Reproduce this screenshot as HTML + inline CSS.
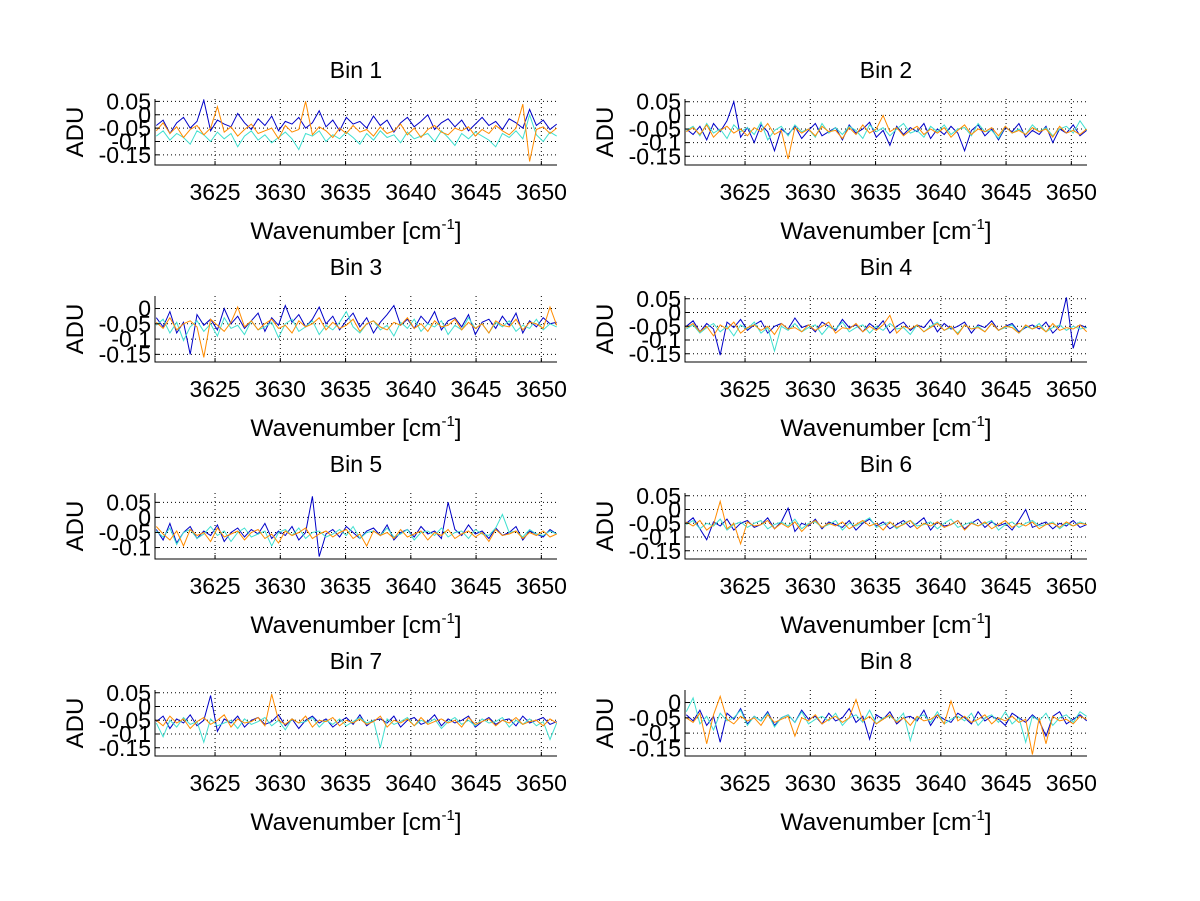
<!DOCTYPE html>
<html><head><meta charset="utf-8"><title>Bins</title>
<style>
html,body{margin:0;padding:0;background:#fff;}
svg{display:block;font-family:"Liberation Sans",Arial,sans-serif;}
</style></head>
<body>
<svg id="fig" width="1200" height="901" viewBox="0 0 1200 901"></svg>
<script>
// ---- chart data (values in ADU) ----
const binTitles = ["Bin 1","Bin 2","Bin 3","Bin 4","Bin 5","Bin 6","Bin 7","Bin 8"];
const xTicks = [3625,3630,3635,3640,3645,3650];
const xTickLabels = ["3625","3630","3635","3640","3645","3650"];
const wnStart = 3620.5;
const wnStep = 0.52;
const yTicksA = [0.05,0,-0.05,-0.1,-0.15];
const yTickLabelsA = ["0.05","0","-0.05","-0.1","-0.15"];
const yTicksB = [0,-0.05,-0.1,-0.15];
const yTickLabelsB = ["0","-0.05","-0.1","-0.15"];
const yTicksC = [0.05,0,-0.05,-0.1];
const yTickLabelsC = ["0.05","0","-0.05","-0.1"];
const yRanges = [[-0.188,0.059],[-0.182,0.06],[-0.175,0.041],[-0.18,0.06],[-0.138,0.081],[-0.18,0.06],[-0.18,0.06],[-0.175,0.041]];
const tickSets = ["A","A","B","A","C","A","A","B"];
// series: blue, turquoise, orange (milli-ADU)
const blue1 = [-40,-20,-70,-30,-10,-50,-25,55,-60,-20,-35,-45,5,-30,-55,-15,-40,-5,-60,-25,-35,-10,-50,-30,15,-45,-20,-60,-10,-35,-25,-50,-5,-40,-20,-65,-30,-10,-45,-25,0,-55,-30,-15,-45,-20,-60,-35,-10,-40,-25,-55,-15,-30,-50,20,-40,-20,-55,-35];
const cyan1 = [-80,-60,-95,-70,-85,-110,-60,-75,-100,-65,-90,-70,-120,-80,-60,-95,-75,-105,-85,-65,-90,-130,-70,-80,-60,-100,-75,-90,-65,-85,-110,-70,-95,-60,-85,-75,-105,-65,-90,-80,-70,-100,-60,-85,-115,-70,-90,-65,-80,-95,-120,-70,-85,-60,-90,0,-75,-100,-65,-80];
const orng1 = [-60,-30,-70,-45,-85,-55,-40,-75,-50,30,-65,-45,-80,-55,-35,-70,-60,-50,-90,-40,-65,-55,50,-75,-45,-60,-85,-50,-70,-40,-65,-55,-80,-45,-70,-60,-35,-75,-50,-85,-55,-40,-65,-75,-50,-60,-45,-80,-55,-70,-40,-60,-75,-50,40,-175,-55,-45,-70,-50];
const blue2 = [-50,-70,-40,-90,-30,-60,-20,50,-80,-45,-100,-35,-60,-130,-50,-70,-40,-85,-55,-30,-75,-60,-45,-90,-35,-65,-50,-25,-80,-55,-110,-40,-70,-45,-60,-30,-85,-50,-70,-40,-65,-130,-55,-35,-75,-50,-90,-45,-60,-30,-80,-55,-70,-40,-100,-50,-65,-35,-75,-55];
const cyan2 = [-55,-40,-75,-30,-65,-50,-85,-35,-60,-45,-70,-25,-90,-55,-40,-75,-35,-60,-50,-80,-30,-65,-45,-70,-40,-55,-85,-35,-60,-45,-75,-50,-30,-65,-55,-80,-40,-60,-35,-70,-50,-45,-75,-30,-60,-55,-85,-40,-65,-50,-70,-35,-60,-45,-75,-50,-40,-65,-20,-55];
const orng2 = [-60,-45,-70,-35,-80,-55,-40,-65,-50,-75,-45,-60,-30,-70,-55,-160,-45,-65,-50,-75,-40,-60,-55,-85,-45,-70,-35,-65,-50,0,-60,-45,-75,-55,-40,-70,-50,-65,-45,-80,-55,-35,-70,-50,-60,-45,-75,-40,-65,-55,-70,-45,-60,-50,-80,-40,-65,-55,-70,-50];
const blue3 = [-30,-60,-10,-80,-45,-150,-20,-55,-35,-70,0,-50,-25,-65,-40,-15,-75,-30,-55,10,-45,-20,-60,-35,5,-50,-25,-70,-40,-15,-60,-30,-80,-45,-20,10,-55,-35,-65,-25,-50,-10,-70,-40,-30,-60,-20,-85,-45,-35,-65,-25,-55,-15,-80,-40,-60,-30,-50,-45];
const cyan3 = [-55,-35,-80,-45,-105,-60,-40,-75,-50,-90,-30,-65,-55,-85,-40,-70,-60,-45,-95,-50,-35,-75,-60,-40,-85,-55,-70,-45,-10,-60,-80,-50,-40,-70,-55,-90,-45,-65,-35,-75,-50,-60,-40,-85,-55,-70,-30,-65,-50,-80,-45,-60,-40,-75,-55,-65,-35,-70,-50,-60];
const orng3 = [-45,-65,-30,-70,-50,-40,-60,-160,-35,-55,-75,-45,5,-60,-40,-70,-50,-35,-65,-55,-80,-40,-60,-50,-30,-70,-45,-65,-55,-35,-75,-50,-40,-60,-70,-45,-55,-30,-65,-50,-75,-40,-60,-55,-35,-70,-45,-65,-50,-80,-40,-55,-60,-35,-70,-45,-50,-65,5,-55];
const blue4 = [-50,-30,-70,-40,-60,-155,-35,-55,-25,-65,-45,-30,-75,-50,-40,-60,-20,-55,-45,-70,-35,-50,-65,-25,-55,-45,-70,-40,-60,-30,-75,-50,-35,-65,-45,-55,-25,-70,-40,-60,-50,-35,-75,-45,-55,-30,-65,-50,-40,-70,-55,-45,-60,-35,-75,-50,55,-130,-45,-55];
const cyan4 = [-60,-45,-75,-55,-40,-70,-50,-85,-45,-60,-35,-75,-55,-140,-50,-65,-40,-70,-55,-45,-80,-50,-60,-35,-70,-55,-45,-75,-50,-65,-40,-60,-55,-80,-45,-70,-50,-35,-65,-55,-75,-45,-60,-50,-70,-40,-65,-55,-45,-75,-50,-60,-40,-70,-55,-45,-65,-50,-60,-55];
const orng4 = [-55,-40,-70,-50,-85,-45,-60,-35,-75,-55,-45,-65,-50,-80,-40,-60,-55,-70,-45,-65,-50,-35,-75,-55,-60,-40,-70,-50,-65,-45,-10,-75,-50,-60,-45,-70,-55,-40,-65,-50,-80,-45,-60,-55,-70,-40,-65,-50,-55,-75,-45,-60,-50,-70,-40,-65,-55,-60,-45,-70];
const blue5 = [-40,-75,-20,-85,-50,-30,-70,-45,-60,-25,-80,-50,-35,-65,-40,-55,-20,-70,-45,-60,-30,-75,-50,70,-130,-55,-40,-65,-30,-50,-70,-45,-35,-60,-25,-75,-50,-40,-65,-30,-55,-45,-70,50,-40,-60,-25,-55,-45,-70,-35,-60,-50,-30,-75,-45,-55,-65,-40,-55];
const cyan5 = [-45,-65,-35,-90,-50,-40,-70,-55,-30,-60,-45,-80,-50,-35,-65,-55,-45,-95,-50,-40,-60,-35,-70,-50,-45,-65,-55,-40,-60,-30,-70,-50,-45,-60,-35,-65,-55,-40,-75,-50,-45,-60,-35,-65,-50,-45,-70,-40,-55,-60,-35,10,-50,-45,-65,-40,-55,-60,-45,-55];
const orng5 = [-30,-55,-75,-45,-95,-40,-60,-50,-80,-35,-65,-55,-45,-75,-50,-40,-70,-55,-85,-45,-60,-50,-35,-70,-55,-45,-65,-50,-40,-70,-55,-95,-45,-60,-50,-70,-40,-65,-55,-45,-75,-50,-60,-40,-70,-55,-45,-65,-50,-80,-40,-60,-55,-45,-70,-50,-60,-45,-65,-55];
const blue6 = [-50,-30,-70,-110,-45,-60,-35,-75,-50,-40,-65,-55,-30,-70,-45,5,-80,-50,-60,-35,-70,-45,-55,-65,-40,-75,-50,-35,-60,-45,-70,-55,-40,-65,-50,-30,-75,-45,-60,-55,-40,-70,-50,-35,-65,-45,-60,-50,-75,-40,0,-65,-55,-45,-70,-50,-60,-40,-65,-55];
const cyan6 = [-55,-40,-70,-50,-60,-35,-75,-55,-45,-65,-50,-40,-70,-55,-45,-60,-35,-70,-50,-45,-65,-55,-40,-75,-50,-60,-45,-30,-65,-55,-45,-70,-50,-40,-60,-55,-45,-70,-50,-35,-65,-55,-45,-60,-50,-40,-75,-55,-45,-65,-50,-40,-60,-55,-45,-70,-50,-60,-45,-55];
const orng6 = [-45,-60,-40,-75,-55,30,-70,-50,-125,-45,-60,-55,-40,-70,-50,-65,-45,-80,-55,-40,-65,-50,-60,-45,-70,-55,-40,-60,-50,-75,-45,-65,-55,-40,-70,-50,-60,-45,-65,-55,-40,-75,-50,-60,-45,-70,-55,-40,-65,-50,-60,-45,-70,-55,-50,-65,-45,-60,-50,-55];
const blue7 = [-55,-35,-80,-45,-60,-30,-70,-50,40,-90,-45,-60,-35,-75,-50,-40,-65,-55,-30,-70,-45,-80,-50,-35,-60,-45,-75,-55,-40,-65,-30,-70,-50,-45,-60,-35,-75,-50,-40,-65,-55,-30,-70,-45,-60,-50,-35,-75,-55,-40,-65,-50,-45,-70,-35,-60,-50,-40,-65,-55];
const cyan7 = [-60,-110,-50,-75,-40,-65,-55,-130,-45,-70,-60,-50,-80,-45,-65,-55,-40,-70,-50,-85,-45,-60,-55,-40,-75,-50,-65,-45,-70,-55,-40,-60,-50,-150,-45,-65,-55,-40,-70,-50,-60,-45,-80,-55,-40,-65,-50,-70,-45,-60,-55,-40,-75,-50,-65,-45,-70,-55,-120,-60];
const orng7 = [-50,-70,-35,-60,-45,-80,-55,-40,-65,-50,-30,-75,-45,-60,-55,-40,-70,45,-50,-65,-45,-60,-35,-75,-50,-55,-40,-70,-50,-60,-45,-65,-55,-35,-75,-50,-60,-45,-70,-40,-65,-55,-45,-60,-50,-75,-40,-65,-55,-45,-70,-50,-60,-40,-65,-55,-50,-70,-45,-60];
const blue8 = [-40,-60,-25,-75,-45,-130,-35,-55,-20,-70,-45,-60,-30,-75,-50,-40,-65,-25,-55,-45,-70,-35,-60,-50,-20,-65,-45,-120,-40,-55,-30,-70,-50,-45,-60,-25,-75,-40,-55,-65,-35,-50,-70,-30,-60,-45,-55,-75,-35,-50,-65,-40,-60,-110,-45,-30,-70,-55,-40,-60];
const cyan8 = [-30,15,-70,-45,-90,-35,-60,-50,-25,-75,-45,-60,-35,-80,-50,-40,-65,-30,-70,-55,-45,-60,-35,-75,-50,-40,-65,-25,-70,-50,-45,-60,-35,-125,-50,-40,-65,-30,-70,-55,-45,-60,-35,-75,-50,-40,-65,-30,-70,-50,-130,-45,-60,-35,-75,-50,-40,-65,-30,-45];
const orng8 = [-50,-65,-35,-135,-40,20,-55,-70,-45,-60,-50,-75,-40,-65,-55,-45,-110,-50,-60,-40,-70,-55,-45,-65,-50,10,-60,-45,-70,-55,-40,-65,-50,-75,-45,-60,-55,-40,-70,5,-60,-45,-65,-55,-40,-70,-50,-60,-45,-65,-55,-170,-50,-135,-45,-60,-55,-70,-45,-55];
const panelSeries = [[blue1,cyan1,orng1],[blue2,cyan2,orng2],[blue3,cyan3,orng3],[blue4,cyan4,orng4],[blue5,cyan5,orng5],[blue6,cyan6,orng6],[blue7,cyan7,orng7],[blue8,cyan8,orng8]];
const seriesNames = ["blue","turquoise","orange"];

// ---- layout / style ----
const colors = ["#0000c8","#40e0d0","#ff8c00"];
const colX = [155, 685], plotW = 402;
const rowTop = [99, 296, 493, 690], plotH = 66;
const xMin = 3620.4, xMax = 3651.2;
const NS = "http://www.w3.org/2000/svg";
const svg = document.getElementById('fig');
function mk(tag, attrs, parent){
  const e = document.createElementNS(NS, tag);
  for (const k in attrs) e.setAttribute(k, attrs[k]);
  (parent||svg).appendChild(e);
  return e;
}
binTitles.forEach((title, p) => {
  const left = colX[p % 2], top = rowTop[Math.floor(p / 2)];
  const [yMin, yMax] = yRanges[p];
  const xs = v => left + (v - xMin) / (xMax - xMin) * plotW;
  const ys = v => top + plotH - (v - yMin) / (yMax - yMin) * plotH;
  const g = mk('g', {});
  
  
  const clipId = 'clip' + p;
  const cp = mk('clipPath', {id: clipId}, g);
  mk('rect', {x: left, y: top, width: plotW, height: plotH}, cp);
  const yt = tickSets[p] === 'A' ? yTicksA : tickSets[p] === 'B' ? yTicksB : yTicksC;
  const ytl = tickSets[p] === 'A' ? yTickLabelsA : tickSets[p] === 'B' ? yTickLabelsB : yTickLabelsC;
  xTicks.forEach(t => {
    const l = mk('line', {x1: xs(t), x2: xs(t), y1: top, y2: top + plotH, stroke: '#000', 'stroke-width': 1, 'stroke-dasharray': '1,3'}, g);
    
    
  });
  yt.forEach(t => {
    const l = mk('line', {x1: left, x2: left + plotW, y1: ys(t), y2: ys(t), stroke: '#000', 'stroke-width': 1, 'stroke-dasharray': '1,3'}, g);
    
    
  });
  panelSeries[p].forEach((arr, s) => {
    const pts = arr.map((v, i) => xs(wnStart + i * wnStep).toFixed(1) + ',' + ys(v / 1000).toFixed(1)).join(' ');
    const pl = mk('polyline', {points: pts, fill: 'none', stroke: colors[s], 'stroke-width': 1, 'clip-path': 'url(#' + clipId + ')'}, g);
    
    
  });
  const ax = mk('path', {d: `M${left} ${top} V${top + plotH} H${left + plotW}`, fill: 'none', stroke: '#000', 'stroke-width': 1}, g);
  
  
  xTicks.forEach((t, i) => {
    mk('line', {x1: xs(t), x2: xs(t), y1: top + plotH, y2: top + plotH - 4, stroke: '#000'}, g);
    const tx = mk('text', {x: xs(t), y: top + plotH + 35, 'font-size': 23, 'text-anchor': 'middle', fill: '#000'}, g);
    tx.textContent = xTickLabels[i];
    
    
  });
  yt.forEach((t, i) => {
    mk('line', {x1: left, x2: left + 4, y1: ys(t), y2: ys(t), stroke: '#000'}, g);
    const tx = mk('text', {x: left - 4, y: ys(t) + 8, 'font-size': 23, 'text-anchor': 'end', fill: '#000'}, g);
    tx.textContent = ytl[i];
    
    
  });
  const tt = mk('text', {x: left + plotW / 2, y: top - 21, 'font-size': 23, 'text-anchor': 'middle', fill: '#000'}, g);
  tt.textContent = title;
  
  
  const xl = mk('text', {x: left + plotW / 2, y: top + plotH + 74, 'font-size': 24.5, 'text-anchor': 'middle', fill: '#000'}, g);
  xl.innerHTML = 'Wavenumber [cm<tspan dy="-10" font-size="15">-1</tspan><tspan dy="10">]</tspan>';
  
  
  const yl = mk('text', {x: 0, y: 0, 'font-size': 24, 'text-anchor': 'middle', fill: '#000', transform: `translate(${left - 72},${top + plotH / 2}) rotate(-90)`}, g);
  yl.textContent = 'ADU';
  
  
});
</script>
</body></html>
